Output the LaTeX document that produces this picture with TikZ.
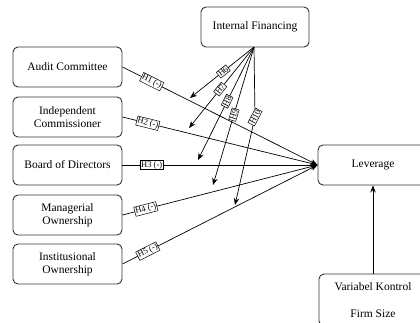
\documentclass[tikz,border=0pt]{standalone}
\usepackage{fontspec}
\setmainfont{Liberation Serif}
\usetikzlibrary{arrows.meta}
\begin{document}
\begin{tikzpicture}[x=1pt,y=-1pt,
  box/.style={draw=black!80, line width=0.9pt, rounded corners=5pt, minimum width=109pt, minimum height=40pt, align=center, font=\fontsize{11.5}{13.5}\selectfont, inner sep=2pt},
  lab/.style={draw=black, line width=0.5pt, fill=white, inner sep=0.8pt, font=\fontsize{8.5}{9.5}\selectfont},
  conn/.style={line width=0.7pt, -{Stealth[length=7pt,width=5.5pt]}},
  plain/.style={line width=0.7pt}]
\useasboundingbox (0,0) rectangle (420,322);
\clip (0,0) rectangle (420,322);
\node[box] (ac) at (67.5,67) {Audit Committee};
\node[box] (ic) at (67.5,117) {Independent\\Commissioner};
\node[box] (bd) at (67.5,165) {Board of Directors};
\node[box] (mo) at (67.5,215) {Managerial\\Ownership};
\node[box] (io) at (67.5,264) {Institusional\\Ownership};
\node[box, minimum width=108pt] (if) at (255,27) {Internal Financing};
\node[box, minimum width=110pt] (lev) at (373,165) {Leverage};
\node[box, minimum width=108pt, minimum height=52pt] (vk) at (373,300) {Variabel Kontrol\\[14pt]Firm Size};

\draw[conn] (ac.east) -- node[lab, sloped, pos=0.15] (h1) {H1 (-)} (lev.west);
\draw[conn] (ic.east) -- node[lab, sloped, pos=0.13] (h2) {H2 (-)} (lev.west);
\draw[conn] (bd.east) -- node[lab, sloped, pos=0.15] (h3) {H3 (-)} (lev.west);
\draw[conn] (mo.east) -- node[lab, sloped, pos=0.12] (h4) {H4 (-)} (lev.west);
\draw[conn] (io.east) -- node[lab, sloped, pos=0.13] (h5) {H5 (-)} (lev.west);

\coordinate (t6) at (190,98);
\coordinate (t7) at (189,128);
\coordinate (t8) at (198,160);
\coordinate (t9) at (213,185);
\coordinate (t10) at (235,205);
\coordinate (src) at (254,47);

\draw[conn] (src) -- node[lab, sloped, pos=0.48] (h6) {H6} (t6);
\draw[conn] (src) -- node[lab, sloped, pos=0.52] (h7) {H7} (t7);
\draw[conn] (src) -- node[lab, sloped, pos=0.48] (h8) {H8} (t8);
\draw[conn] (src) -- node[lab, sloped, pos=0.49] (h9) {H9} (t9);
\node[lab, rotate=62] (h10) at (255,117) {H10};
\draw[plain] (src) -- (h10);
\draw[conn] (h10) -- (t10);

\draw[conn] (vk.north) -- (lev.south);
\end{tikzpicture}
\end{document}
